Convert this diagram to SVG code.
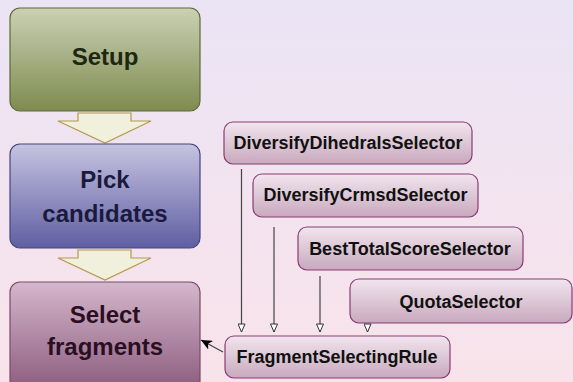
<svg xmlns="http://www.w3.org/2000/svg" width="573" height="382" viewBox="0 0 573 382">
<defs>
<linearGradient id="bg" x1="0" y1="0" x2="0" y2="1">
<stop offset="0" stop-color="#ebe4f5"/>
<stop offset="1" stop-color="#f9e3ea"/>
</linearGradient>
<linearGradient id="gSetup" x1="0" y1="0" x2="0" y2="1">
<stop offset="0" stop-color="#cad1b4"/>
<stop offset="1" stop-color="#7e8b4f"/>
</linearGradient>
<linearGradient id="gPick" x1="0" y1="0" x2="0" y2="1">
<stop offset="0" stop-color="#c6c4e1"/>
<stop offset="1" stop-color="#5f5ea2"/>
</linearGradient>
<linearGradient id="gSelect" x1="0" y1="0" x2="0" y2="1">
<stop offset="0" stop-color="#d5b7cc"/>
<stop offset="1" stop-color="#8a5a7c"/>
</linearGradient>
<linearGradient id="gSmall" x1="0" y1="0" x2="0" y2="1">
<stop offset="0" stop-color="#f1e5ee"/>
<stop offset="1" stop-color="#c8a9bd"/>
</linearGradient>
<marker id="tri" markerWidth="10" markerHeight="8" refX="9" refY="4" orient="auto" markerUnits="userSpaceOnUse">
<path d="M1,0.5 L9,4 L1,7.5 Z" fill="#ffffff" stroke="#333" stroke-width="1"/>
</marker>
<marker id="filled" markerWidth="12" markerHeight="10" refX="11" refY="5" orient="auto" markerUnits="userSpaceOnUse">
<path d="M0,0 L11,5 L0,10 L3,5 Z" fill="#000"/>
</marker>
<style>
.big{font-family:"Liberation Sans",Arial,sans-serif;font-weight:bold;font-size:24px;text-anchor:middle}
.sm{font-family:"Liberation Sans",Arial,sans-serif;font-weight:bold;font-size:18px;fill:#111;text-anchor:middle}
.smbox{fill:url(#gSmall);stroke:#8b3a73;stroke-width:1.2}
.blk{fill:#f0f0dc;stroke:#b39a4e;stroke-width:1.2}
.conn{stroke:#444;stroke-width:1.2;fill:none}
</style>
</defs>
<rect width="573" height="382" fill="url(#bg)"/>
<g id="flow-arrows">
<path class="blk" d="M78,113 L131,113 L131,121 L151,121 L105,143 L58,121 L78,121 Z"/>
<path class="blk" d="M78,250 L131,250 L131,258 L151,258 L105,280 L58,258 L78,258 Z"/>
</g>
<g id="setup">
<rect x="10" y="8" width="190" height="103" rx="10" fill="url(#gSetup)" stroke="#5e6a36" stroke-width="1.2"/>
<text class="big" x="105" y="65" fill="#1f2612">Setup</text>
</g>
<g id="pick">
<rect x="10" y="144" width="190" height="104" rx="10" fill="url(#gPick)" stroke="#45447f" stroke-width="1.2"/>
<text class="big" x="105" y="188" fill="#1a1a3c">Pick</text>
<text class="big" x="105" y="222" fill="#1a1a3c">candidates</text>
</g>
<g id="select">
<rect x="10" y="282" width="190" height="110" rx="10" fill="url(#gSelect)" stroke="#7a4a6c" stroke-width="1.2"/>
<text class="big" x="105" y="323" fill="#2a0f22">Select</text>
<text class="big" x="105" y="355" fill="#2a0f22">fragments</text>
</g>
<g id="diversifyDihedrals">
<rect class="smbox" x="224" y="122" width="248" height="42" rx="9"/>
<text class="sm" x="348" y="149">DiversifyDihedralsSelector</text>
</g>
<g id="diversifyCrmsd">
<rect class="smbox" x="253" y="174" width="225" height="43" rx="9"/>
<text class="sm" x="365.5" y="201">DiversifyCrmsdSelector</text>
</g>
<g id="bestTotalScore">
<rect class="smbox" x="298" y="227" width="225" height="43" rx="9"/>
<text class="sm" x="410" y="255">BestTotalScoreSelector</text>
</g>
<g id="quota">
<rect class="smbox" x="350" y="279" width="222" height="44" rx="9"/>
<text class="sm" x="461" y="308">QuotaSelector</text>
</g>
<g id="fragmentSelectingRule">
<rect class="smbox" x="225" y="336" width="225" height="42" rx="9"/>
<text class="sm" x="337" y="363">FragmentSelectingRule</text>
</g>
<g id="connectors">
<path class="conn" d="M241.5,169 L241.5,332" marker-end="url(#tri)"/>
<path class="conn" d="M274,227 L274,332" stroke="#555" marker-end="url(#tri)"/>
<path class="conn" d="M320,276 L320,332" stroke="#555" marker-end="url(#tri)"/>
<path class="conn" d="M367.5,324 L367.5,332" marker-end="url(#tri)"/>
<path class="conn" d="M223,352 L201,340" stroke="#000" marker-end="url(#filled)"/>
</g>
</svg>
